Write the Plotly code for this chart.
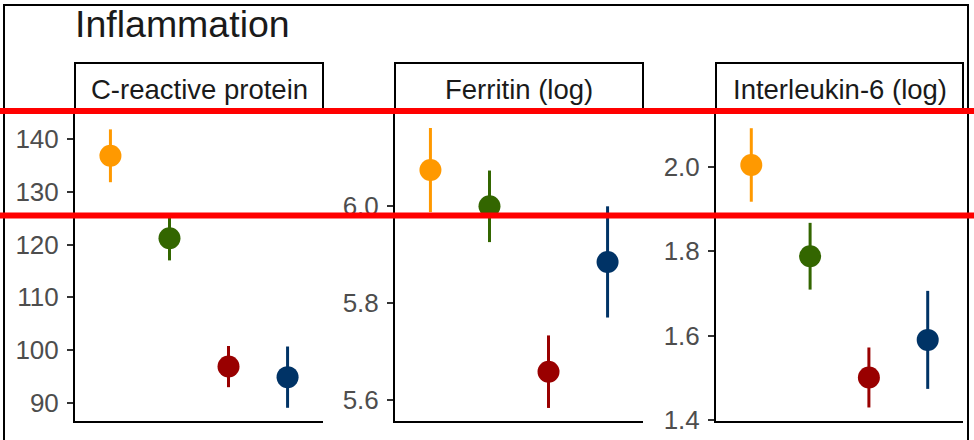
import plotly.graph_objects as go

# ---- data ----
groups = ["Group 1", "Group 2", "Group 3", "Group 4"]
colors = ["#FF9900", "#336600", "#990000", "#003366"]

panel_titles = ["C-reactive protein", "Ferritin (log)", "Interleukin-6 (log)"]

crp_mean = [136.8, 121.2, 96.9, 94.9]
crp_err = [5.0, 4.2, 3.9, 5.8]

ferritin_mean = [6.075, 6.000, 5.658, 5.885]
ferritin_err = [0.087, 0.074, 0.075, 0.115]

il6_mean = [2.004, 1.788, 1.501, 1.590]
il6_err = [0.087, 0.079, 0.071, 0.116]

crp_ticks = [90, 100, 110, 120, 130, 140]
ferritin_ticks = [5.6, 5.8, 6.0]
il6_ticks = [1.4, 1.6, 1.8, 2.0]

means = [crp_mean, ferritin_mean, il6_mean]
errs = [crp_err, ferritin_err, il6_err]
ticks = [crp_ticks, ferritin_ticks, il6_ticks]
tickfmt = ["d", ".1f", ".1f"]
yranges = [[86.6, 144.9], [5.556, 6.193], [1.398, 2.127]]

# ---- layout geometry (pixels) ----
W, H = 974, 440
panel_x = [(75, 323), (395, 643), (716, 963)]
panel_top, panel_bottom = 113, 421
strip_top = 63

def px(x):
    return x / W

def py(y):
    return 1 - y / H

FONT = "Liberation Sans, Arial, sans-serif"

fig = go.Figure()

shapes = []
annotations = []
for i in range(3):
    ax = "" if i == 0 else str(i + 1)
    for g in range(4):
        fig.add_trace(go.Scatter(
            x=[groups[g]], y=[means[i][g]],
            mode="markers",
            marker=dict(size=22, color=colors[g]),
            error_y=dict(type="data", array=[errs[i][g]], width=0,
                         thickness=3, color=colors[g]),
            xaxis="x" + ax, yaxis="y" + ax,
            showlegend=False, hoverinfo="skip",
        ))
    x0, x1 = panel_x[i]
    fig.layout["xaxis" + ax] = dict(
        domain=[px(x0), px(x1)], anchor="y" + ax, automargin=False,
        type="category", categoryorder="array", categoryarray=groups,
        range=[-0.6, 3.6], showline=True, linecolor="black", linewidth=2,
        showgrid=False, zeroline=False, showticklabels=False, ticks="",
    )
    fig.layout["yaxis" + ax] = dict(
        domain=[py(panel_bottom), py(panel_top)], anchor="x" + ax,
        automargin=False,
        range=yranges[i], showline=True, linecolor="black", linewidth=2,
        showgrid=False, zeroline=False,
        tickmode="array", tickvals=ticks[i], tickformat=tickfmt[i],
        ticks="outside", ticklen=6, tickwidth=2, tickcolor="#333333",
        tickfont=dict(family=FONT, size=26, color="#4D4D4D"),
        ticklabelstandoff=3,
    )
    # strip box
    shapes.append(dict(type="rect", xref="paper", yref="paper",
                       x0=px(x0), x1=px(x1), y0=py(panel_top), y1=py(strip_top),
                       line=dict(color="black", width=2), fillcolor="white",
                       layer="above"))
    annotations.append(dict(text=panel_titles[i], xref="paper", yref="paper",
                            x=px((x0 + x1) / 2), y=py(89), xanchor="center",
                            yanchor="middle", showarrow=False,
                            font=dict(family=FONT, size=27.5, color="#1A1A1A")))

# title
annotations.append(dict(text="Inflammation", xref="paper", yref="paper",
                        x=px(73), y=py(24), xanchor="left", yanchor="middle",
                        showarrow=False,
                        font=dict(family=FONT, size=37.5, color="#1A1A1A")))

# outer border
shapes.append(dict(type="rect", xref="paper", yref="paper",
                   x0=px(4), x1=px(968), y0=-0.2, y1=py(5),
                   line=dict(color="black", width=2), layer="above"))
# red horizontal lines
for yy in [111, 215.5]:
    shapes.append(dict(type="line", xref="paper", yref="paper",
                       x0=0, x1=1, y0=py(yy), y1=py(yy),
                       line=dict(color="#FF0000", width=6), layer="above"))

fig.update_layout(
    width=W, height=H, margin=dict(l=0, r=0, t=0, b=0, autoexpand=False),
    paper_bgcolor="white", plot_bgcolor="white",
    shapes=shapes, annotations=annotations,
    font=dict(family=FONT),
)

fig.write_html("out.html", config={"displayModeBar": False},
               post_script="document.body.style.margin='0';document.body.style.overflow='hidden';")
